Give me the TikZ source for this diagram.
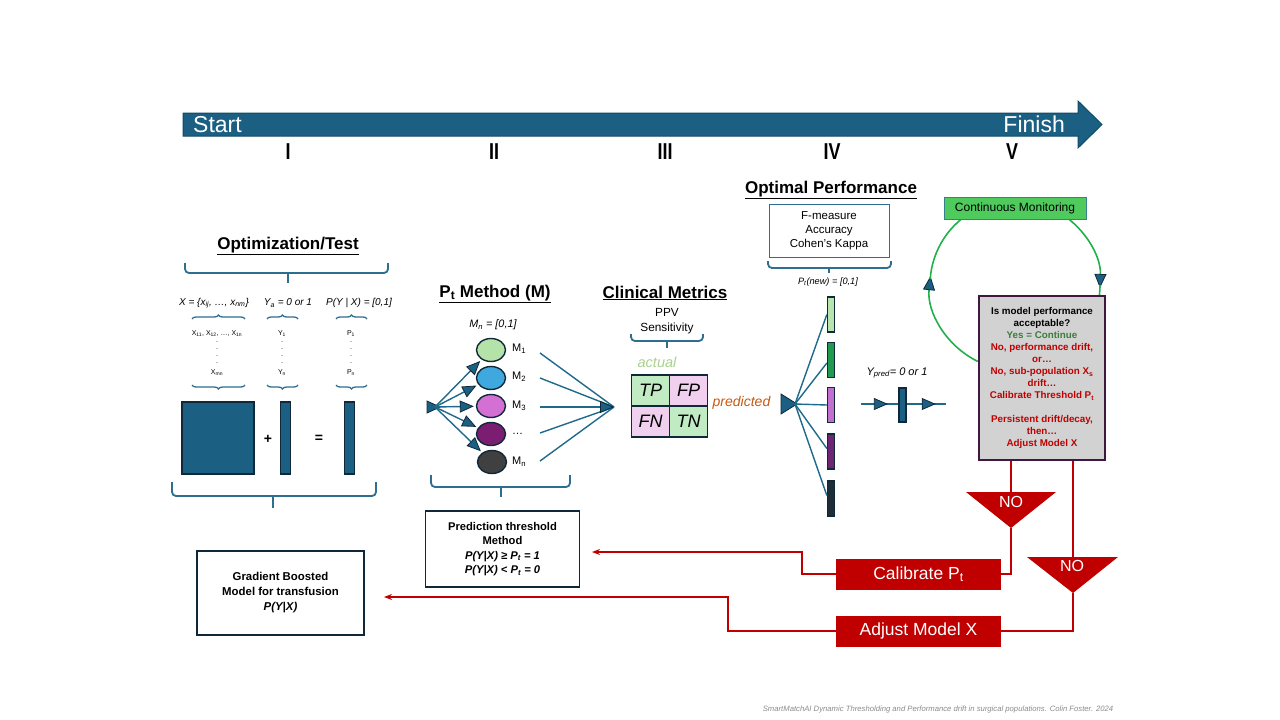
\documentclass[tikz,border=0pt]{standalone}
\usepackage{fontspec}
\setmainfont{Liberation Sans}
\usetikzlibrary{arrows.meta,shapes.geometric,decorations.pathreplacing,decorations.markings}
\definecolor{mblue}{HTML}{1B5F82}
\definecolor{abord}{HTML}{134A66}
\definecolor{dborder}{HTML}{10293A}
\definecolor{bracec}{HTML}{2E6E91}
\definecolor{lblue}{HTML}{1F6A8A}
\definecolor{cred}{HTML}{C00000}
\definecolor{cgreen}{HTML}{22B04B}
\definecolor{ygreen}{HTML}{3B7D3B}
\definecolor{cA}{HTML}{B5E2A8}
\definecolor{cB}{HTML}{3FA9DF}
\definecolor{cC}{HTML}{D46FD3}
\definecolor{cD}{HTML}{7B1E72}
\definecolor{cE}{HTML}{404040}
\definecolor{bA}{HTML}{B8E4AE}
\definecolor{bB}{HTML}{1F9A4F}
\definecolor{bC}{HTML}{C270CF}
\definecolor{bD}{HTML}{6E2574}
\definecolor{bE}{HTML}{1E2D36}
\definecolor{mgreen}{HTML}{C1EBC3}
\definecolor{mpink}{HTML}{F1D0EF}
\definecolor{actc}{HTML}{A9D18E}
\definecolor{predc}{HTML}{C55A11}
\definecolor{monfill}{HTML}{4FCB5E}
\definecolor{monbord}{HTML}{3A7F8E}
\definecolor{qfill}{HTML}{D2D2D2}
\definecolor{qbord}{HTML}{40183F}
\definecolor{footc}{HTML}{8C8C8C}
\newcommand{\narrowtxt}[1]{\scalebox{0.78}[1]{#1}}
\tikzset{
  title/.style={font=\fontsize{17}{20}\selectfont\bfseries, inner sep=0pt},
  roman/.style={font=\fontsize{23}{26}\selectfont\bfseries, inner sep=0pt},
  bbrace/.style={draw=bracec, line width=1.8pt, rounded corners=4pt},
  sbrace/.style={draw=bracec, line width=1.3pt, decorate, decoration={brace, amplitude=4pt}},
  conn/.style={draw=lblue, line width=1.4pt},
  tarrow/.style={conn, -{Triangle[length=14pt,width=12pt,fill=mblue,color=dborder,line width=0.8pt]}},
  midtri/.style={conn, postaction={decorate}, decoration={markings, mark=at position #1 with {\arrow{Triangle[length=14pt,width=12pt,fill=mblue,color=dborder,line width=0.8pt]}}}},
  ell/.style={ellipse, draw=dborder, line width=1.4pt, minimum width=29pt, minimum height=23pt, inner sep=0pt},
  vbar/.style={draw=dborder, line width=1.3pt, minimum width=7pt, minimum height=35pt, inner sep=0pt},
  tallbar/.style={draw=dborder, line width=1.3pt, fill=mblue, minimum width=10pt, minimum height=72pt, inner sep=0pt},
  redline/.style={draw=cred, line width=1.5pt},
  redarrow/.style={redline, -{Stealth[length=8pt,width=6pt]}},
  redbox/.style={fill=cred, text=white, minimum width=165pt, minimum height=31pt, inner sep=0pt, font=\fontsize{17.5}{20}\selectfont},
  tbox/.style={draw=dborder, line width=1.8pt, align=center, inner sep=0pt},
  cell/.style={draw=dborder, line width=1.6pt, minimum width=38pt, minimum height=31pt, inner sep=0pt, font=\fontsize{18}{20}\selectfont\itshape},
  tiny/.style={font=\fontsize{7}{8}\selectfont, inner sep=0pt},
  itxt/.style={font=\fontsize{10}{12}\selectfont\itshape, inner sep=0pt},
  mlab/.style={font=\fontsize{11}{13}\selectfont, inner sep=0pt, anchor=west},
  notxt/.style={text=white, font=\fontsize{16}{18}\selectfont, inner sep=0pt},
  trifill/.style={fill=mblue, draw=dborder, line width=0.8pt}
}
\begin{document}
\begin{tikzpicture}[x=1pt,y=-1pt]
\useasboundingbox (0,0) rectangle (1280,720);
\fill[white] (0,0) rectangle (1280,720);

% ---- timeline arrow
\filldraw[fill=mblue, draw=abord, line width=1pt] (183,113) -- (1078,113) -- (1078,101) -- (1102,124.5) -- (1078,148) -- (1078,136) -- (183,136) -- cycle;
\node[anchor=west, text=white, font=\fontsize{23}{26}\selectfont, inner sep=0pt] (start) at (193,124.5) {Start};
\node[anchor=east, text=white, font=\fontsize{23}{26}\selectfont, inner sep=0pt] (finish) at (1065,124.5) {Finish};
\node[roman] (r1) at (288,152) {\narrowtxt{I}};
\node[roman] (r2) at (494,152) {\narrowtxt{II}};
\node[roman] (r3) at (665,152) {\narrowtxt{III}};
\node[roman] (r4) at (832,152) {\narrowtxt{IV}};
\node[roman] (r5) at (1012,152) {\narrowtxt{V}};

% ---- I: Optimization/Test
\node[title] (opt) at (288,246) {\underline{Optimization/Test}};
\draw[bbrace] (185,263) -- (185,273) -- (388,273) -- (388,263);
\draw[bbrace] (288,273) -- (288,283);
\node[itxt] (xset) at (214,303) {X = \{x\textsubscript{ij}, …, x\textsubscript{nm}\}};
\node[itxt] (yset) at (288,303) {Y\textsubscript{a} = 0 or 1};
\node[itxt] (pset) at (359,303) {P(Y | X) = [0,1]};
\draw[sbrace] (192,319) -- (245,319);
\draw[sbrace] (267,319) -- (298,319);
\draw[sbrace] (336,319) -- (367,319);
\node[tiny] (x1) at (217,334) {X\textsubscript{11}, X\textsubscript{12}, …, X\textsubscript{1n}};
\node[tiny] (y1) at (282,334) {Y\textsubscript{1}};
\node[tiny] (p1) at (351,334) {P\textsubscript{1}};
\foreach \yy in {342,349,356,363}{
  \node[tiny] at (217,\yy) {.};
  \node[tiny] at (282,\yy) {.};
  \node[tiny] at (351,\yy) {.};
}
\node[tiny] (xm) at (217,373) {X\textsubscript{mn}};
\node[tiny] (yn) at (282,373) {Y\textsubscript{n}};
\node[tiny] (pn) at (351,373) {P\textsubscript{n}};
\draw[sbrace] (245,385) -- (192,385);
\draw[sbrace] (298,385) -- (267,385);
\draw[sbrace] (367,385) -- (336,385);
\node[draw=dborder, line width=1.5pt, fill=mblue, minimum width=72pt, minimum height=72pt, inner sep=0pt] (sq) at (218,438) {};
\node[font=\fontsize{14}{16}\selectfont\bfseries, inner sep=0pt] (plus) at (268,439) {+};
\node[tallbar] (ybar) at (285.5,438) {};
\node[font=\fontsize{14}{16}\selectfont\bfseries, inner sep=0pt] (eq) at (319,439) {=};
\node[tallbar] (pbar) at (349.5,438) {};
\draw[bbrace] (172,482) -- (172,496) -- (376,496) -- (376,482);
\draw[bbrace] (273,496) -- (273,508);

\node[tbox, minimum width=167pt, minimum height=84pt, font=\fontsize{11.4}{15}\selectfont\bfseries] (gbm) at (280.5,593) {Gradient Boosted\\Model for transfusion\\\textit{P(Y|X)}};

% ---- II: Pt method
\node[title] (ptm) at (495,294) {\underline{P\textsubscript{t} Method (M)}};
\node[font=\fontsize{10.8}{12}\selectfont\itshape, inner sep=0pt] (mn) at (493,325) {M\textsubscript{n} = [0,1]};
\node[ell, fill=cA] (e1) at (491,350) {};
\node[ell, fill=cB] (e2) at (491,378) {};
\node[ell, fill=cC] (e3) at (491,406) {};
\node[ell, fill=cD] (e4) at (491,434) {};
\node[ell, fill=cE] (e5) at (492,462) {};
\node[mlab] (l1) at (512,349) {M\textsubscript{1}};
\node[mlab] (l2) at (512,377) {M\textsubscript{2}};
\node[mlab] (l3) at (512,406) {M\textsubscript{3}};
\node[mlab] (l4) at (512,434) {…};
\node[mlab] (l5) at (512,462) {M\textsubscript{n}};
\filldraw[trifill] (427,401) -- (440,407) -- (427,413) -- cycle;
\coordinate (src) at (435,407);
\foreach \e in {e1,e2,e3,e4,e5}{
  \draw[tarrow, shorten >=2pt] (src) -- (\e);
}
\coordinate (conv) at (614,407);
\coordinate (q1) at (540,353);
\coordinate (q2) at (540,378);
\coordinate (q3) at (540,407);
\coordinate (q4) at (540,433);
\coordinate (q5) at (540,461);
\foreach \q in {q1,q2,q4,q5}{ \draw[conn] (\q) -- (conv); }
\draw[conn, -{Triangle[length=14pt,width=12pt,fill=mblue,color=dborder,line width=0.8pt]}] (q3) -- (conv);
\draw[bbrace] (431,475) -- (431,487) -- (570,487) -- (570,475);
\draw[bbrace] (501,487) -- (501,497);
\node[tbox, minimum width=154pt, minimum height=76pt, font=\fontsize{11.2}{14.5}\selectfont\bfseries] (pthr) at (502.5,549) {Prediction threshold\\Method\\\textit{P(Y|X) ≥ P\textsubscript{t} = 1}\\\textit{P(Y|X) < P\textsubscript{t} = 0}};

% ---- III: Clinical metrics
\node[title] (cm) at (665,293) {\underline{Clinical Metrics}};
\node[font=\fontsize{11.8}{15}\selectfont, align=center, inner sep=0pt] (ppv) at (667,321) {PPV\\Sensitivity};
\draw[bbrace] (631,334) -- (631,341) -- (703,341) -- (703,334);
\draw[bbrace] (667,341) -- (667,348);
\node[font=\fontsize{14.5}{16}\selectfont\itshape, text=actc, inner sep=0pt] (act) at (657,362) {actual};
\node[cell, fill=mgreen] (tp) at (650.5,390.5) {TP};
\node[cell, fill=mpink] (fp) at (688.5,390.5) {FP};
\node[cell, fill=mpink] (fn) at (650.5,421.5) {FN};
\node[cell, fill=mgreen] (tn) at (688.5,421.5) {TN};
\node[font=\fontsize{14}{16}\selectfont\itshape, text=predc, inner sep=0pt] (pred) at (741.5,403) {predicted};

% ---- IV: Optimal performance
\node[title] (op) at (831,190) {\underline{Optimal Performance}};
\node[draw=bracec, line width=1pt, minimum width=120pt, minimum height=53pt, align=center, inner sep=0pt, font=\fontsize{11.5}{14.2}\selectfont] (opbox) at (829,230.5) {F-measure\\Accuracy\\Cohen's Kappa};
\draw[bbrace] (768,261) -- (768,268) -- (891,268) -- (891,261);
\draw[bbrace] (829,268) -- (829,273);
\node[font=\fontsize{9.2}{11}\selectfont\itshape, inner sep=0pt] (ptnew) at (828,282) {P\textsubscript{t}(new) = [0,1]};

\filldraw[trifill] (781,394) -- (797,404) -- (781,414) -- cycle;
\coordinate (src2) at (795,404);
\node[vbar, fill=bA] (v1) at (831,314.5) {};
\node[vbar, fill=bB] (v2) at (831,360) {};
\node[vbar, fill=bC] (v3) at (831,405) {};
\node[vbar, fill=bD] (v4) at (831,451.5) {};
\node[vbar, fill=bE] (v5) at (831,498.5) {};
\draw[conn] (src2) -- (v1.west);
\draw[conn] (src2) -- ([yshift=-3pt]v2.west);
\draw[conn] (src2) -- (v3.west);
\draw[conn] (src2) -- ([yshift=3pt]v4.west);
\draw[conn] (src2) -- ([yshift=3pt]v5.west);

\node[font=\fontsize{11}{13}\selectfont\itshape, inner sep=0pt] (ypred) at (897,373) {Y\textsubscript{pred}= 0 or 1};
\coordinate (ya) at (861,404);
\node[vbar, fill=mblue, minimum height=34pt] (yb) at (902.5,405) {};
\coordinate (yc) at (946,404);
\draw[midtri=0.72] (ya) -- (yb.west |- ya);
\draw[midtri=0.74] (yb.east |- ya) -- (yc);

% ---- V: monitoring
\draw[cgreen, line width=1.6pt, -{Triangle[length=14pt,width=12pt,fill=mblue,color=dborder,line width=0.8pt]}] (1015,285) ++(116:85) arc[start angle=116, end angle=186, radius=85];
\draw[cgreen, line width=1.6pt] (1015,285) ++(184:85) arc[start angle=184, end angle=242, radius=85];
\draw[cgreen, line width=1.6pt, -{Triangle[length=14pt,width=12pt,fill=mblue,color=dborder,line width=0.8pt]}] (1015,285) ++(298:85) arc[start angle=298, end angle=362, radius=85];
\draw[cgreen, line width=1.6pt] (1015,285) ++(360:85) arc[start angle=360, end angle=372, radius=85];
\node[draw=monbord, line width=1pt, fill=monfill, minimum width=142pt, minimum height=22pt, inner sep=0pt, font=\fontsize{12}{14}\selectfont] (mon) at (1015,208) {Continuous Monitoring};
\node[draw=qbord, line width=2pt, fill=qfill, minimum width=126pt, minimum height=164pt, align=center, inner sep=0pt, text=cred, font=\fontsize{9.8}{12}\selectfont\bfseries] (qbox) at (1042,378)
  {\textcolor{black}{Is model performance}\\\textcolor{black}{acceptable?}\\\textcolor{ygreen}{Yes = Continue}\\No, performance drift,\\or…\\No, sub-population X\textsubscript{s}\\drift…\\Calibrate Threshold P\textsubscript{t}\\[12pt]Persistent drift/decay,\\then…\\Adjust Model X};

% NO triangles and red paths
\fill[cred] (966,492) -- (1056,492) -- (1011,528) -- cycle;
\node[notxt] (no1) at (1011,502) {NO};
\coordinate (no1top) at (1011,492);
\coordinate (no1tip) at (1011,528);
\fill[cred] (1027,557) -- (1118,557) -- (1073,593) -- cycle;
\node[notxt] (no2) at (1072,566) {NO};
\coordinate (no2top) at (1073,557);
\coordinate (no2tip) at (1073,593);
\node[redbox] (cal) at (918.5,574) {Calibrate P\textsubscript{t}};
\node[redbox] (adj) at (918.5,631) {Adjust Model X};
\draw[redline] (qbox.south -| no1top) -- (no1top);
\draw[redline] (no1tip) |- (cal.east);
\draw[redline] (qbox.south -| no2top) -- (no2top);
\draw[redline] (no2tip) |- (adj.east);
\coordinate (calbend) at (802,552);
\coordinate (calend) at (592,552);
\draw[redarrow] (cal.west) -| (calbend) -- (calend);
\coordinate (adjbend) at (728,597);
\coordinate (adjend) at (384,597);
\draw[redarrow] (adj.west) -| (adjbend) -- (adjend);

% footer
\node[font=\fontsize{7.7}{9}\selectfont\itshape, text=footc, inner sep=0pt] (foot) at (938,710) {SmartMatchAI Dynamic Thresholding and Performance drift in surgical populations. Colin Foster. 2024};
\end{tikzpicture}
\end{document}
